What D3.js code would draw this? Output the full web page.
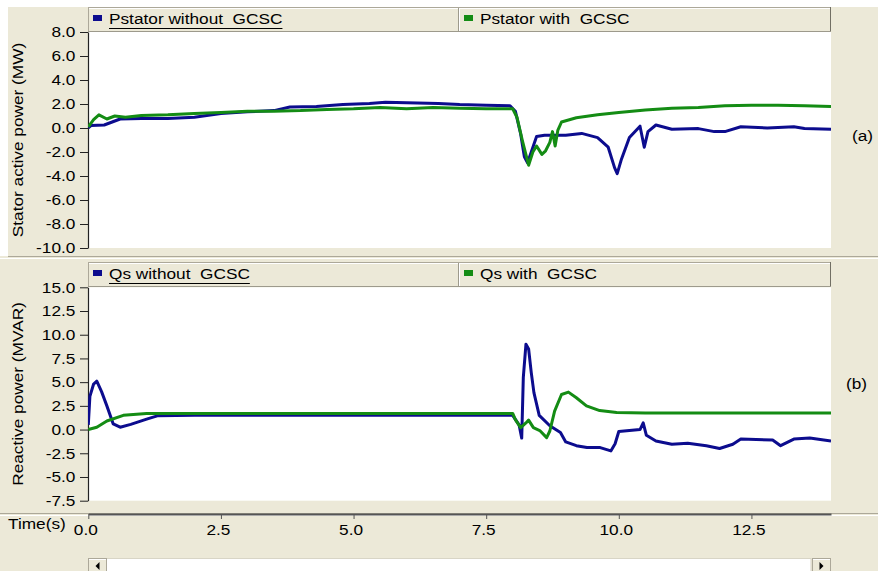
<!DOCTYPE html>
<html><head><meta charset="utf-8">
<script src="https://cdn.jsdelivr.net/npm/d3@7"></script>
<style>
html,body{margin:0;padding:0;background:#fff;}
svg text{font-family:"Liberation Sans",Arial,sans-serif;white-space:pre;}
</style></head>
<body>
<svg id="chart" width="878" height="571"></svg>
<script>
// ---------- data ----------
const xTicks = [0, 2.5, 5, 7.5, 10, 12.5];
const pTicks = [8, 6, 4, 2, 0, -2, -4, -6, -8, -10];
const qTicks = [15, 12.5, 10, 7.5, 5, 2.5, 0, -2.5, -5, -7.5];

const pWithoutT = [0,0.05,0.3,0.45,0.6,1.0,1.5,2.0,2.5,3.0,3.5,3.8,4.3,4.8,5.3,5.6,6.0,6.6,7.0,7.5,7.95,8.05,8.15,8.22,8.28,8.35,8.45,8.6,9.0,9.3,9.6,9.8,9.92,9.97,10.05,10.2,10.4,10.48,10.55,10.7,11.0,11.5,11.8,12.0,12.3,12.8,13.3,13.5,14.0];
const pWithoutV = [0.0,0.2,0.25,0.5,0.75,0.8,0.8,0.9,1.2,1.35,1.45,1.75,1.8,1.95,2.05,2.15,2.1,2.05,1.95,1.9,1.85,1.4,-0.5,-2.4,-2.9,-2.0,-0.7,-0.6,-0.6,-0.45,-0.8,-1.6,-3.3,-3.8,-2.6,-0.8,0.15,-1.6,-0.3,0.25,-0.1,-0.05,-0.3,-0.3,0.1,0.0,0.1,-0.05,-0.1];

const pWithT = [0,0.1,0.2,0.35,0.5,0.7,1.0,1.5,2.0,2.5,3.0,3.5,4.0,4.5,5.0,5.5,6.0,6.5,7.0,7.5,8.0,8.08,8.18,8.3,8.38,8.45,8.55,8.62,8.7,8.75,8.8,8.85,8.92,9.2,9.6,10.0,10.5,11.0,11.5,12.0,12.5,13.0,13.5,14.0];
const pWithV = [0.1,0.7,1.1,0.75,1.0,0.9,1.05,1.1,1.2,1.3,1.4,1.4,1.45,1.55,1.6,1.7,1.6,1.7,1.65,1.6,1.6,0.9,-1.0,-3.1,-2.0,-1.5,-2.2,-1.9,-1.2,-0.3,-1.5,-0.2,0.5,0.85,1.1,1.3,1.5,1.65,1.7,1.85,1.9,1.9,1.85,1.8];

const qWithoutT = [0,0.03,0.1,0.16,0.25,0.35,0.47,0.6,0.8,1.1,1.3,2.0,8.0,8.12,8.17,8.2,8.25,8.3,8.35,8.4,8.5,8.7,8.9,9.0,9.2,9.4,9.65,9.85,9.93,10.0,10.4,10.46,10.52,10.7,11.0,11.3,11.65,11.9,12.15,12.3,12.9,13.05,13.3,13.6,14.0];
const qWithoutV = [0.5,3.5,4.8,5.1,4.0,2.5,0.6,0.25,0.55,1.1,1.45,1.5,1.5,0.5,-0.9,5.5,9.0,8.5,6.0,3.9,1.5,0.4,-0.3,-1.3,-1.7,-1.9,-1.9,-2.25,-1.5,-0.2,0.0,0.7,-0.6,-1.2,-1.55,-1.45,-1.7,-2.0,-1.55,-1.0,-1.1,-1.7,-1.0,-0.9,-1.2];

const qWithT = [0,0.16,0.35,0.66,1.1,8.0,8.05,8.15,8.25,8.3,8.39,8.51,8.64,8.7,8.79,8.92,9.05,9.2,9.39,9.64,9.96,10.5,14.0];
const qWithV = [0.0,0.25,0.9,1.5,1.7,1.7,1.05,0.2,0.7,1.0,0.2,-0.1,-0.85,-0.15,1.95,3.7,3.95,3.35,2.5,2.0,1.8,1.75,1.75];

const legendTop = ["Pstator without  GCSC", "Pstator with  GCSC"];
const legendBot = ["Qs without  GCSC", "Qs with  GCSC"];
const yTitles = ["Stator active power (MW)", "Reactive power (MVAR)"];
const panelTags = ["(a)", "(b)"];

// ---------- styling ----------
const BEIGE = "#ece9d8", BLUE = "#0c0c8e", GREEN = "#148c14";
const SX = 1.15; // horizontal text stretch
const svg = d3.select("#chart");

const x = d3.scaleLinear().domain([0, 14]).range([88.3, 831]);
const yP = d3.scaleLinear().domain([-10, 8]).range([248, 32]);
const yQ = d3.scaleLinear().domain([-7.5, 15]).range([500.7, 287.3]);

function txt(g, s, px, py, opts = {}) {
  const t = g.append("text")
    .attr("transform", `translate(${px},${py})` + (opts.rot ? ` rotate(${opts.rot})` : "") + ` scale(${SX},1)`)
    .attr("font-size", opts.size || 15)
    .attr("fill", opts.fill || "#000")
    .attr("text-anchor", opts.anchor || "start")
    .attr("xml:space", "preserve")
    .text(s);
  return t;
}

// backgrounds
svg.append("rect").attr("x", 0).attr("y", 0).attr("width", 878).attr("height", 571).attr("fill", "#fff");
svg.append("rect").attr("x", 8).attr("y", 7).attr("width", 870).attr("height", 249).attr("fill", BEIGE);
svg.append("rect").attr("x", 0).attr("y", 256).attr("width", 878).attr("height", 315).attr("fill", BEIGE);
// separator between panels
svg.append("line").attr("x1", 8).attr("x2", 878).attr("y1", 256.5).attr("y2", 256.5).attr("stroke", "#aca899");
svg.append("line").attr("x1", 0).attr("x2", 878).attr("y1", 258.5).attr("y2", 258.5).attr("stroke", "#fff");

function panel(y, yTickVals, top, leg, series, title, tag, tagX, tagY, titleY) {
  const g = svg.append("g");
  const [r0, r1] = y.range();
  // plot area
  g.append("rect").attr("x", 89).attr("y", r1).attr("width", 742).attr("height", r0 - r1).attr("fill", "#fff");
  // legend bar
  g.append("rect").attr("x", 88.5).attr("y", top + 0.5).attr("width", 742).attr("height", 24).attr("fill", BEIGE)
    .attr("stroke", "#aca899");
  g.append("line").attr("x1", 830.5).attr("x2", 830.5).attr("y1", top).attr("y2", top + 25).attr("stroke", "#716f64");
  g.append("line").attr("x1", 88).attr("x2", 831).attr("y1", top + 24.5).attr("y2", top + 24.5).attr("stroke", "#9d9a8c");
  g.append("line").attr("x1", 89).attr("x2", 830).attr("y1", top + 1.5).attr("y2", top + 1.5).attr("stroke", "#fff");
  g.append("line").attr("x1", 458.5).attr("x2", 458.5).attr("y1", top + 1).attr("y2", top + 24).attr("stroke", "#9d9a8c");
  g.append("line").attr("x1", 459.5).attr("x2", 459.5).attr("y1", top + 1).attr("y2", top + 24).attr("stroke", "#fff");
  // legend entries
  const lx = [93, 464], cols = [BLUE, GREEN];
  leg.forEach((s, i) => {
    g.append("rect").attr("x", lx[i]).attr("y", top + 8).attr("width", 9).attr("height", 6).attr("fill", cols[i]);
    const t = txt(g, s, lx[i] + 16, top + 17);
    if (i === 0) {
      const w = t.node().getComputedTextLength() * SX;
      g.append("line").attr("x1", lx[i] + 16).attr("x2", lx[i] + 16 + w)
        .attr("y1", top + 21.5).attr("y2", top + 21.5).attr("stroke", "#000").attr("stroke-width", 1);
    }
  });
  // y axis
  const ax = g.append("g").attr("transform", "translate(88,0)")
    .call(d3.axisLeft(y).tickValues(yTickVals).tickFormat(v => v.toFixed(1)).tickSize(8).tickPadding(3).tickSizeOuter(0));
  ax.select(".domain").attr("stroke", "#222").attr("stroke-width", 1.2);
  ax.selectAll(".tick line").attr("stroke", "#222");
  ax.selectAll(".tick text").attr("font-size", 15).attr("fill", "#000")
    .attr("font-family", "Liberation Sans, Arial, sans-serif")
    .attr("transform", `scale(${SX},1)`);
  // title
  txt(g, title, 23, titleY, { rot: -90, anchor: "middle", size: 15 });
  txt(g, tag, tagX, tagY, { size: 15 });
  // lines
  const clipId = "clip" + top;
  svg.append("clipPath").attr("id", clipId).append("rect").attr("x", 88).attr("y", r1).attr("width", 743).attr("height", r0 - r1);
  const line = d3.line().x(d => x(d[0])).y(d => y(d[1]));
  series.forEach(s => {
    const pts = s.t.map((tv, i) => [tv, s.v[i]]);
    g.append("path").attr("d", line(pts)).attr("fill", "none").attr("stroke", s.c)
      .attr("stroke-width", 3).attr("stroke-linejoin", "round").attr("clip-path", `url(#${clipId})`);
  });
}

panel(yP, pTicks, 7, legendTop, [
  { t: pWithoutT, v: pWithoutV, c: BLUE },
  { t: pWithT, v: pWithV, c: GREEN }
], yTitles[0], panelTags[0], 852, 141, 140);

panel(yQ, qTicks, 262, legendBot, [
  { t: qWithoutT, v: qWithoutV, c: BLUE },
  { t: qWithT, v: qWithV, c: GREEN }
], yTitles[1], panelTags[1], 846, 389, 394);

// x axis
svg.append("line").attr("x1", 0).attr("x2", 878).attr("y1", 513.5).attr("y2", 513.5).attr("stroke", "#aca899");
svg.append("line").attr("x1", 0).attr("x2", 878).attr("y1", 515.5).attr("y2", 515.5).attr("stroke", "#fff");
const xa = svg.append("g").attr("transform", "translate(0,514)")
  .call(d3.axisBottom(x).tickValues(xTicks).tickFormat(v => v.toFixed(1)).tickSize(5).tickPadding(5).tickSizeOuter(0));
xa.select(".domain").attr("stroke", "#555").attr("stroke-width", 2);
xa.selectAll(".tick line").attr("stroke", "#555");
xa.selectAll(".tick text").attr("font-size", 15).attr("fill", "#000")
  .attr("font-family", "Liberation Sans, Arial, sans-serif")
  .attr("transform", `translate(-3,0) scale(${SX},1)`);
txt(svg, "Time(s)", 8, 529, { size: 15 });

// scrollbar
const sb = svg.append("g");
sb.append("rect").attr("x", 106).attr("y", 558.5).attr("width", 705).attr("height", 13).attr("fill", "#fff").attr("stroke", "#d8d5c6");
[[88, "L"], [812, "R"]].forEach(([bx, d]) => {
  sb.append("rect").attr("x", bx + 0.5).attr("y", 558.5).attr("width", 18).attr("height", 13).attr("fill", BEIGE).attr("stroke", "#aca899");
  sb.append("line").attr("x1", bx + 1).attr("x2", bx + 18).attr("y1", 559.5).attr("y2", 559.5).attr("stroke", "#fff");
  const cx = bx + 9.5, cy = 566;
  const p = d === "L" ? `M${cx + 2},${cy - 4}L${cx - 2},${cy}L${cx + 2},${cy + 4}Z` : `M${cx - 2},${cy - 4}L${cx + 2},${cy}L${cx - 2},${cy + 4}Z`;
  sb.append("path").attr("d", p).attr("fill", "#000");
});
</script>
</body></html>
